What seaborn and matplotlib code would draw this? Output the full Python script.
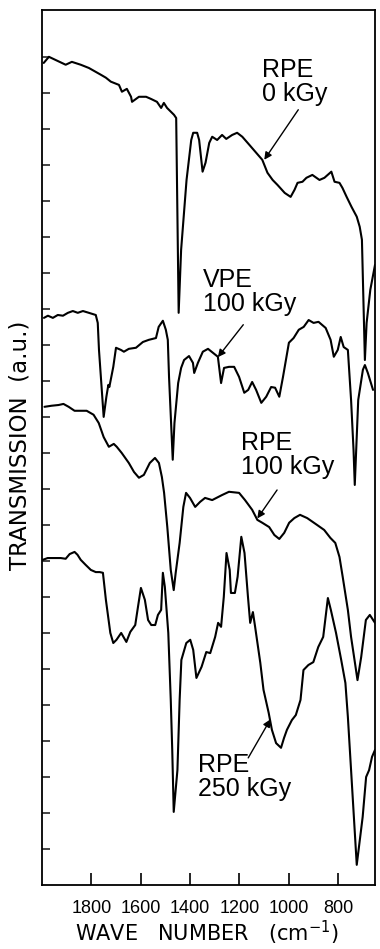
import matplotlib
matplotlib.use("Agg")
import matplotlib.pyplot as plt
from matplotlib import font_manager
import seaborn as sns
import pandas as pd

# ---------------- data ----------------
rpe0_wn = [1993, 1972, 1904, 1879, 1843, 1810, 1761, 1741, 1721, 1688, 1676, 1656, 1639, 1635, 1607, 1578, 1558, 1534, 1517, 1506,
           1493, 1465, 1456, 1446, 1436, 1414, 1395, 1387, 1371, 1363, 1349, 1337, 1322, 1310, 1290, 1270, 1253, 1229, 1209, 1188,
           1160, 1131, 1107, 1086, 1065, 1045, 1016, 992, 976, 964, 944, 928, 904, 875, 855, 827, 814, 794, 782, 765,
           745, 724, 712, 703, 691, 684, 669, 650]
rpe0_t = [22.83, 23.0, 22.78, 22.86, 22.78, 22.69, 22.5, 22.42, 22.31, 22.22, 22.03, 22.11, 21.89, 21.75, 21.89, 21.89, 21.83, 21.75, 21.58, 21.72,
          21.58, 21.39, 21.3, 15.89, 17.64, 19.58, 20.69, 20.89, 20.89, 20.69, 19.81, 20.06, 20.61, 20.78, 20.69, 20.83, 20.72, 20.83, 20.89, 20.78,
          20.56, 20.33, 20.14, 19.78, 19.58, 19.44, 19.22, 19.11, 19.31, 19.5, 19.53, 19.64, 19.72, 19.58, 19.64, 19.81, 19.53, 19.5, 19.36, 19.11,
          18.83, 18.56, 18.28, 17.92, 14.58, 15.61, 16.53, 17.22]

vpe100_wn = [1992, 1976, 1956, 1936, 1915, 1895, 1875, 1855, 1834, 1810, 1782, 1774, 1769, 1750, 1739, 1731, 1727, 1711, 1700, 1680,
             1668, 1648, 1619, 1591, 1567, 1538, 1527, 1510, 1498, 1490, 1485, 1470, 1463, 1448, 1436, 1424, 1404, 1388, 1383, 1368,
             1348, 1327, 1307, 1287, 1274, 1262, 1242, 1221, 1201, 1180, 1164, 1148, 1132, 1111, 1091, 1071, 1055, 1038, 1023, 999,
             980, 959, 939, 919, 899, 879, 850, 830, 817, 801, 789, 777, 760, 747, 737, 732, 718, 699, 691, 679, 658]
vpe100_t = [15.75, 15.81, 15.75, 15.83, 15.81, 15.89, 15.94, 15.89, 15.94, 15.89, 15.83, 15.61, 14.86, 13.0, 13.56, 13.89, 13.83, 14.39, 14.92, 14.86,
            14.81, 14.89, 14.92, 15.08, 15.14, 15.19, 15.5, 15.67, 15.42, 15.14, 14.11, 11.81, 12.83, 13.94, 14.36, 14.58, 14.69, 14.5, 14.22, 14.5,
            14.81, 14.89, 14.78, 14.67, 13.94, 14.36, 14.39, 14.39, 14.11, 13.67, 13.75, 13.97, 13.75, 13.39, 13.56, 13.83, 13.81, 13.56, 14.11, 15.06,
            15.19, 15.42, 15.5, 15.69, 15.61, 15.64, 15.47, 15.14, 14.67, 14.86, 15.22, 14.94, 14.86, 13.47, 12.08, 11.11, 13.47, 14.31, 14.44, 14.22, 13.75]

rpe100_wn = [1990, 1961, 1933, 1913, 1892, 1868, 1840, 1819, 1791, 1770, 1750, 1729, 1709, 1697, 1677, 1648, 1627, 1607, 1587, 1563,
             1542, 1526, 1514, 1505, 1492, 1478, 1466, 1458, 1442, 1427, 1416, 1400, 1379, 1359, 1339, 1310, 1270, 1242, 1201, 1177,
             1148, 1127, 1107, 1079, 1058, 1038, 1018, 998, 977, 954, 925, 885, 856, 831, 811, 794, 781, 760, 747, 730,
             721, 706, 687, 671, 650]
rpe100_t = [13.28, 13.31, 13.33, 13.36, 13.28, 13.17, 13.17, 13.17, 13.06, 12.83, 12.44, 12.17, 12.25, 12.17, 12.0, 11.72, 11.47, 11.31, 11.39, 11.72,
            11.86, 11.72, 11.33, 10.89, 9.94, 8.75, 8.19, 8.67, 9.5, 10.5, 10.89, 10.75, 10.5, 10.64, 10.75, 10.69, 10.83, 10.92, 10.89, 10.69,
            10.42, 10.14, 10.06, 9.94, 9.72, 9.61, 9.78, 10.06, 10.19, 10.28, 10.19, 10.0, 9.86, 9.64, 9.5, 9.11, 8.56, 7.64, 6.89, 6.11,
            5.69, 6.33, 7.36, 7.5, 7.28]

rpe250_wn = [1997, 1977, 1948, 1924, 1904, 1888, 1868, 1856, 1843, 1823, 1802, 1782, 1766, 1753, 1741, 1723, 1711, 1698, 1679, 1658,
             1642, 1622, 1611, 1599, 1583, 1570, 1557, 1541, 1530, 1517, 1510, 1502, 1488, 1478, 1472, 1466, 1451, 1442, 1435, 1415,
             1399, 1387, 1374, 1353, 1334, 1318, 1298, 1286, 1274, 1263, 1252, 1239, 1234, 1218, 1207, 1192, 1179, 1165, 1156, 1145,
             1136, 1115, 1102, 1081, 1068, 1051, 1031, 1019, 1007, 987, 971, 952, 940, 920, 900, 880, 860, 841, 829, 808,
             787, 770, 760, 747, 724, 700, 686, 674, 662, 650]
rpe250_t = [9.03, 9.08, 9.08, 9.08, 9.06, 9.19, 9.25, 9.17, 9.03, 8.89, 8.75, 8.69, 8.69, 8.67, 7.92, 7.0, 6.72, 6.81, 7.0, 6.75,
            7.03, 7.22, 7.72, 8.25, 7.92, 7.36, 7.22, 7.22, 7.5, 7.64, 8.67, 8.28, 7.0, 5.14, 3.75, 2.03, 3.19, 5.14, 6.25, 6.72,
            6.81, 6.53, 5.75, 6.06, 6.47, 6.44, 6.89, 7.28, 7.17, 8.0, 9.22, 8.75, 8.11, 8.11, 8.56, 9.67, 9.22, 8.0, 7.28, 7.58,
            7.17, 6.17, 5.42, 4.78, 4.31, 3.94, 3.81, 4.08, 4.31, 4.58, 4.72, 5.14, 5.97, 6.11, 6.19, 6.61, 6.89, 7.97, 7.64, 7.0,
            6.25, 5.61, 4.67, 3.19, 0.56, 1.89, 3.0, 3.19, 3.56, 3.75]

sample_labels = ["RPE\n0 kGy", "VPE\n100 kGy", "RPE\n100 kGy", "RPE\n250 kGy"]
x_ticks = [1800, 1600, 1400, 1200, 1000, 800]

# ---------------- style ----------------
sns.set_theme(style="ticks")
names = {f.name for f in font_manager.fontManager.ttflist}
main_font = "Liberation Sans" if "Liberation Sans" in names else "DejaVu Sans"
plt.rcParams["font.family"] = [main_font, "DejaVu Sans"]
plt.rcParams["mathtext.default"] = "regular"

fig = plt.figure(figsize=(3.8, 9.49), dpi=100)
ax = fig.add_axes([42 / 380, 64 / 949, 333 / 380, 875 / 949])

series = [(rpe0_wn, rpe0_t), (vpe100_wn, vpe100_t), (rpe100_wn, rpe100_t), (rpe250_wn, rpe250_t)]
for (wn, tr), lab in zip(series, sample_labels):
    df = pd.DataFrame({"wn": wn, "t": tr})
    sns.lineplot(data=df, x="wn", y="t", ax=ax, color="black", lw=1.5,
                 sort=False, estimator=None)

ax.set_xlim(2000, 650)
ax.set_ylim(0, 24.3)
ax.set_xticks(x_ticks)
ax.set_xticklabels([str(v) for v in x_ticks], fontsize=13)
ax.set_yticks(range(1, 24))
ax.tick_params(axis="x", direction="in", length=9, width=1.2, pad=11, colors="black")
ax.tick_params(axis="y", direction="in", length=6, width=1.2, labelleft=False)
for s in ax.spines.values():
    s.set_linewidth(1.3)
    s.set_color("black")

ax.set_xlabel("WAVE   NUMBER   (cm$^{-1}$)", fontsize=15, color="black",
              fontfamily=["DejaVu Sans"])
ax.xaxis.label.set_va("bottom")
ax.xaxis.set_label_coords(0.495, -0.0705)
ax.set_ylabel("TRANSMISSION  (a.u.)", fontsize=16.5, color="black",
              fontfamily=["DejaVu Sans"])
ax.yaxis.label.set_va("center")
ax.yaxis.set_label_coords(-0.066, 0.503)

# ---------------- annotations ----------------
text_pos = [(1108, 22.97), (1346, 17.14), (1192, 12.61), (1367, 3.67)]
arrow_tail = [(961, 21.53), (1184, 15.56), (1047, 10.97), (1164, 3.53)]
arrow_head = [(1099, 20.14), (1287, 14.66), (1127, 10.18), (1074, 4.6)]
for lab, tp, at, ah in zip(sample_labels, text_pos, arrow_tail, arrow_head):
    ax.text(tp[0], tp[1], lab, ha="left", va="top", fontsize=18,
            linespacing=1.0, multialignment="left", color="black")
    ax.annotate("", xy=ah, xytext=at,
                arrowprops=dict(arrowstyle="-|>", lw=1.0, color="black",
                                mutation_scale=11, shrinkA=0, shrinkB=0))

fig.savefig("out.png", dpi=100)
